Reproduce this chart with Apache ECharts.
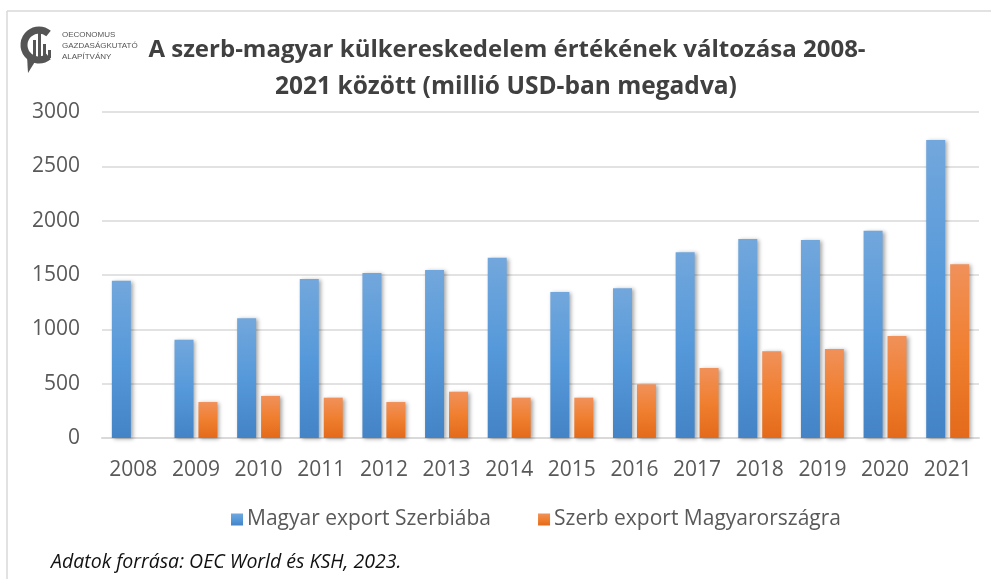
<!DOCTYPE html>
<html>
<head>
<meta charset="utf-8">
<script src="https://cdn.jsdelivr.net/npm/echarts@6/dist/echarts.min.js"></script>
<style>
html,body{margin:0;padding:0;background:#fff;}
#c{width:991px;height:579px;}
</style>
</head>
<body>
<div id="c"></div>
<script>
const years = ['2008','2009','2010','2011','2012','2013','2014','2015','2016','2017','2018','2019','2020','2021'];
const magyarExport = [1448, 905, 1101, 1463, 1519, 1546, 1659, 1343, 1378, 1709, 1831, 1822, 1908, 2743];
const szerbExport = ['-', 331, 387, 371, 331, 426, 371, 371, 494, 644, 798, 819, 939, 1599];
const seriesNames = ['Magyar export Szerbiába', 'Szerb export Magyarországra'];
const titleLines = ['A szerb-magyar külkereskedelem értékének változása 2008-', '2021 között (millió USD-ban megadva)'];
const sourceText = 'Adatok forrása: OEC World és KSH, 2023.';
const logoLines = ['OECONOMUS', 'GAZDASÁGKUTATÓ', 'ALAPÍTVÁNY'];

const FONT = 'Open Sans';
const chart = echarts.init(document.getElementById('c'), null, {renderer: 'canvas'});

const blueGrad = new echarts.graphic.LinearGradient(0, 0, 0, 1, [
  {offset: 0, color: '#72a7dc'},
  {offset: 0.5, color: '#5699da'},
  {offset: 1, color: '#4383c6'}
]);
const orangeGrad = new echarts.graphic.LinearGradient(0, 0, 0, 1, [
  {offset: 0, color: '#f0915a'},
  {offset: 0.5, color: '#f07f30'},
  {offset: 1, color: '#e36a1a'}
]);

const shadow = {shadowBlur: 4, shadowColor: 'rgba(0,0,0,0.35)', shadowOffsetX: 2, shadowOffsetY: 1};

chart.setOption({
  backgroundColor: '#ffffff',
  animation: false,
  grid: {left: 102, right: 12, top: 112, bottom: 141, containLabel: false, outerBoundsMode: 'none'},
  legend: {
    data: seriesNames,
    left: 226,
    top: 504,
    icon: 'rect',
    itemWidth: 12,
    itemHeight: 12,
    itemGap: 47,
    textStyle: {fontFamily: FONT, fontSize: 21, color: '#595959', padding: [0,0,0,-1]}
  },
  xAxis: {
    type: 'category',
    data: years,
    axisLine: {show: true, lineStyle: {color: '#d9d9d9', width: 2}},
    axisTick: {show: false},
    axisLabel: {fontFamily: FONT, fontSize: 21, color: '#595959', margin: 22},
    splitLine: {show: false}
  },
  yAxis: {
    type: 'value',
    min: 0,
    max: 3000,
    interval: 500,
    axisLine: {show: false},
    axisTick: {show: false},
    axisLabel: {fontFamily: FONT, fontSize: 21, color: '#595959', margin: 22, formatter: function (v) { return String(v); }},
    splitLine: {show: true, lineStyle: {color: '#d9d9d9', width: 1.5}}
  },
  series: [
    {
      name: seriesNames[0],
      type: 'bar',
      data: magyarExport,
      barWidth: 19,
      barGap: '26%',
      itemStyle: Object.assign({color: blueGrad}, shadow)
    },
    {
      name: seriesNames[1],
      type: 'bar',
      data: szerbExport,
      barWidth: 19,
      barGap: '26%',
      itemStyle: Object.assign({color: orangeGrad}, shadow)
    }
  ],
  graphic: [
    {type: 'line', shape: {x1: 7, y1: 11, x2: 991, y2: 11}, style: {stroke: '#d9d9d9', lineWidth: 1.5}, silent: true},
    {type: 'line', shape: {x1: 7, y1: 11, x2: 7, y2: 579}, style: {stroke: '#d9d9d9', lineWidth: 1.5}, silent: true},
    // title
    {type: 'text', x: 507, y: 50, style: {text: titleLines[0], fontFamily: FONT, fontWeight: 'bold', fontSize: 24, fill: '#404040', align: 'center', verticalAlign: 'middle'}},
    {type: 'text', x: 506, y: 87, style: {text: titleLines[1], fontFamily: FONT, fontWeight: 'bold', fontSize: 24.5, fill: '#404040', align: 'center', verticalAlign: 'middle'}},
    // source
    {type: 'text', x: 51, y: 562, style: {text: sourceText, fontFamily: FONT, fontStyle: 'italic', fontSize: 19.5, fill: '#111111', verticalAlign: 'middle'}},
    // logo
    {type: 'arc', shape: {cx: 39, cy: 45, r: 15, startAngle: Math.PI * 0.28, endAngle: Math.PI * 1.72, clockwise: true}, style: {stroke: '#555555', lineWidth: 7, fill: null}},
    {type: 'polygon', shape: {points: [[27, 56], [36, 60], [28, 73]]}, style: {fill: '#555555'}},
    {type: 'rect', shape: {x: 33, y: 40, width: 3, height: 18}, style: {fill: '#555555'}},
    {type: 'rect', shape: {x: 38, y: 33, width: 3, height: 25}, style: {fill: '#555555'}},
    {type: 'rect', shape: {x: 43, y: 44, width: 3, height: 14}, style: {fill: '#555555'}},
    {type: 'rect', shape: {x: 48, y: 50, width: 3, height: 8}, style: {fill: '#555555'}},
    {type: 'text', x: 62, y: 35, style: {text: logoLines[0], fontFamily: 'Liberation Sans', fontSize: 8, fill: '#555555', verticalAlign: 'middle'}},
    {type: 'text', x: 62, y: 46, style: {text: logoLines[1], fontFamily: 'Liberation Sans', fontSize: 8, fill: '#555555', verticalAlign: 'middle'}},
    {type: 'text', x: 62, y: 57, style: {text: logoLines[2], fontFamily: 'Liberation Sans', fontSize: 8, fill: '#555555', verticalAlign: 'middle'}}
  ]
});
</script>
</body>
</html>
